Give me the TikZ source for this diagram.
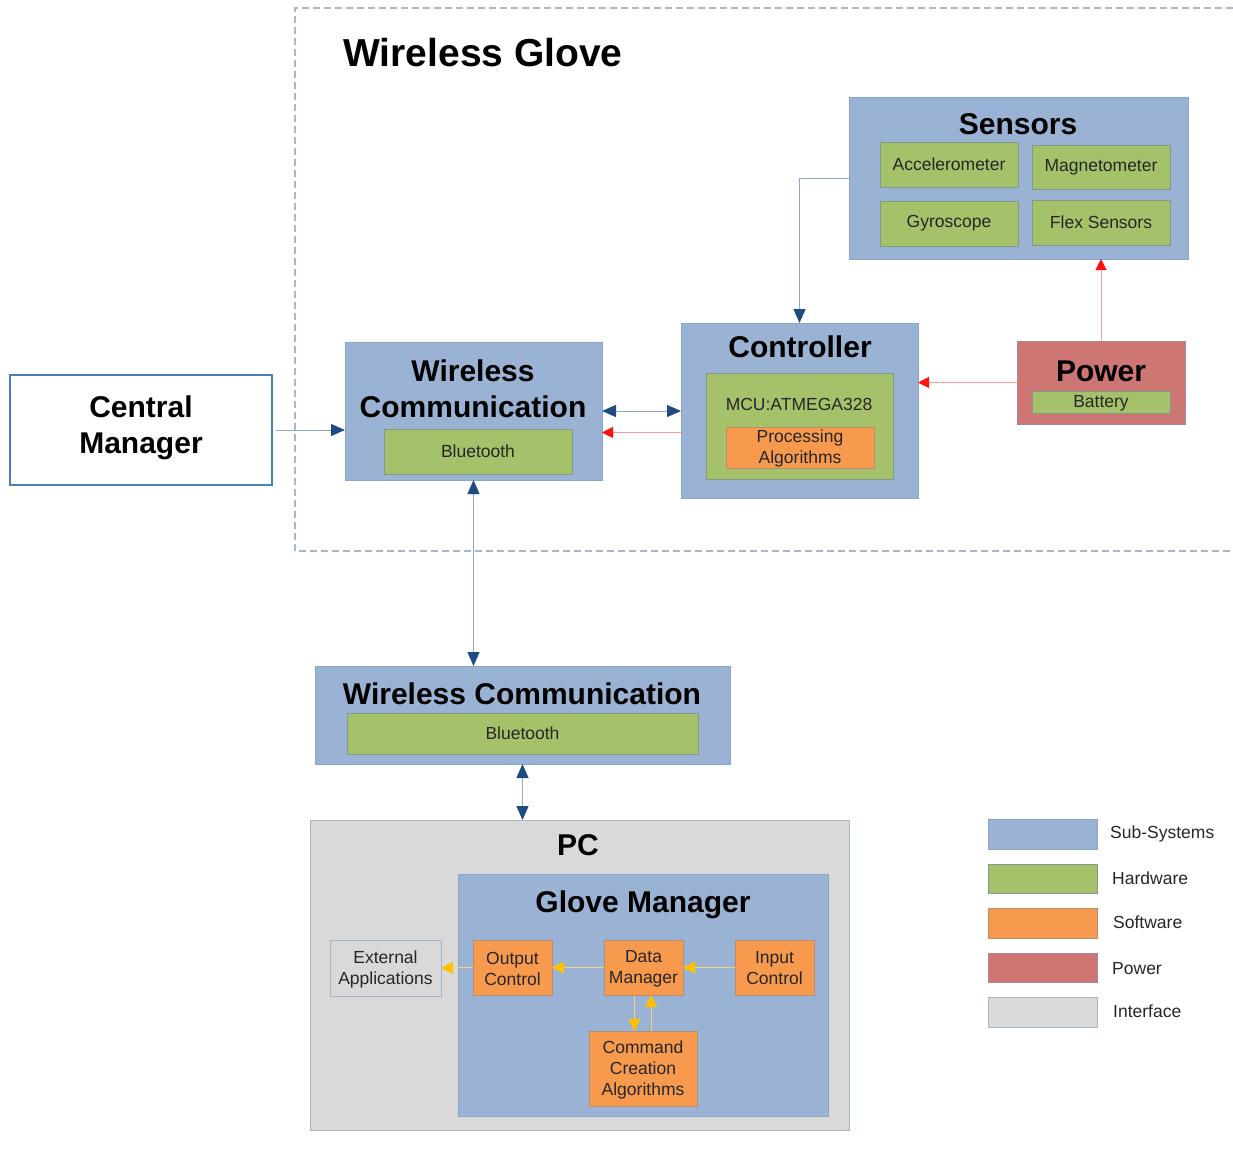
\documentclass[tikz,border=0pt]{standalone}
\usepackage{fontspec}
\setmainfont{Liberation Sans}
\usetikzlibrary{arrows.meta,calc}

\definecolor{subsys}{HTML}{9AB3D4}
\definecolor{subsysline}{HTML}{8AA5C8}
\definecolor{hw}{HTML}{A5C26B}
\definecolor{hwline}{HTML}{7F9A8A}
\definecolor{sw}{HTML}{F79A4E}
\definecolor{swline}{HTML}{B98E70}
\definecolor{pwr}{HTML}{CD7673}
\definecolor{pwrline}{HTML}{A9888F}
\definecolor{iface}{HTML}{D9D9D9}
\definecolor{ifaceline}{HTML}{A4B4CB}
\definecolor{navy}{HTML}{1F4B82}
\definecolor{linkblue}{HTML}{8CA8CC}
\definecolor{cmblue}{HTML}{4F7DBB}
\definecolor{frameblue}{HTML}{A9B6D2}
\definecolor{redhead}{HTML}{FF1010}
\definecolor{redline}{HTML}{FF9C9C}
\definecolor{yelhead}{HTML}{FFC000}
\definecolor{yelline}{HTML}{F2D27A}
\definecolor{txt}{HTML}{262626}

% place a box by its corner coordinates
\newcommand{\blockat}[6]{%
  \node[#6, minimum width={(#4-#2)*1pt}, minimum height={(#5-#3)*1pt}]
    (#1) at ({(#2+#4)/2},{(#3+#5)/2}) {};}

\tikzset{
  blk/.style={draw, inner sep=0pt, outer sep=0pt, line width=1pt},
  subsysbox/.style={blk, fill=subsys, draw=subsysline},
  hwbox/.style={blk, fill=hw, draw=hwline},
  swbox/.style={blk, fill=sw, draw=swline},
  pwrbox/.style={blk, fill=pwr, draw=pwrline},
  ifacebox/.style={blk, fill=iface, draw=ifaceline},
  title/.style={font=\fontsize{30}{36}\selectfont\bfseries, align=center, anchor=base, inner sep=0pt},
  small/.style={font=\fontsize{17.5}{21}\selectfont, text=txt, align=center, inner sep=0pt},
  lbl/.style={small, anchor=base west},
  bluelink/.style={draw=linkblue, line width=1pt},
  bluehead/.style={-{Triangle[length=14pt,width=12pt,color=navy]}},
  bluetwo/.style={{Triangle[length=14pt,width=12pt,color=navy]}-{Triangle[length=14pt,width=12pt,color=navy]}},
  redlink/.style={draw=redline, line width=1pt, -{Triangle[length=11pt,width=11pt,color=redhead]}},
  yellink/.style={draw=yelline, line width=1pt, -{Triangle[length=12pt,width=12pt,color=yelhead]}},
}

\begin{document}
\begin{tikzpicture}[x=1pt, y=-1pt]
\useasboundingbox (0,0) rectangle (1233,1154);

% wireless glove boundary
\draw[frameblue, line width=1.2pt, dash pattern=on 7pt off 4pt]
  (1233,8) -- (295,8) -- (295,551) -- (1233,551);
\node[title, font=\fontsize{39}{44}\selectfont\bfseries] (wgT) at (483,66) {Wireless Glove};

% sensors
\blockat{sens}{849}{97}{1188}{259}{subsysbox}
\node[title] (sensT) at (1018,134) {Sensors};
\blockat{acc}{880}{142}{1018}{187}{hwbox}
\node[small] at (acc) {Accelerometer};
\blockat{mag}{1032}{145}{1170}{189}{hwbox}
\node[small] at (mag) {Magnetometer};
\blockat{gyro}{880}{201}{1018}{246}{hwbox}
\node[small] at (gyro) {Gyroscope};
\blockat{flex}{1032}{200}{1170}{245}{hwbox}
\node[small] at (flex) {Flex Sensors};

% controller
\blockat{ctrl}{681}{323}{918}{498}{subsysbox}
\node[title] (ctrlT) at (800,357) {Controller};
\blockat{mcu}{706}{373}{893}{479}{hwbox}
\node[small, anchor=base] (mcuT) at (799,410) {MCU:ATMEGA328};
\blockat{proc}{726}{427}{874}{468}{swbox}
\node[small] at ([yshift=-1pt]proc) {Processing\\Algorithms};

% power
\blockat{pow}{1017}{341}{1185}{424}{pwrbox}
\node[title] (powT) at (1101,381) {Power};
\blockat{bat}{1032}{391}{1170}{413}{hwbox}
\node[small] at ([yshift=-1pt]bat) {Battery};

% wireless communication on the glove
\blockat{wc1}{345}{342}{602}{480}{subsysbox}
\node[title] (wc1T) at (473,417) {Wireless\\Communication};
\blockat{bt1}{384}{429}{572}{474}{hwbox}
\node[small] at (bt1) {Bluetooth};

% central manager
\blockat{cm}{10}{375}{272}{485}{blk, fill=white, draw=cmblue, line width=2pt}
\node[title] (cmT) at (141,453) {Central\\Manager};

% wireless communication on the PC side
\blockat{wc2}{315}{666}{730}{764}{subsysbox}
\node[title] (wc2T) at (522,704) {Wireless Communication};
\blockat{bt2}{347}{713}{698}{754}{hwbox}
\node[small] at (bt2) {Bluetooth};

% PC
\blockat{pc}{310}{820}{849}{1130}{ifacebox}
\node[title] (pcT) at (578,855) {PC};
\blockat{gm}{458}{874}{828}{1116}{subsysbox}
\node[title] (gmT) at (643,912) {Glove Manager};
\blockat{ext}{330}{940}{441}{996}{ifacebox}
\node[small] at ([yshift=-1pt]ext) {External\\Applications};
\blockat{oc}{473}{940}{552}{995}{swbox}
\node[small] at ([yshift=-1pt]oc) {Output\\Control};
\blockat{dm}{604}{940}{683}{995}{swbox}
\node[small] at ([yshift=-1pt]dm) {Data\\Manager};
\blockat{ic}{735}{940}{814}{995}{swbox}
\node[small] at ([yshift=-1pt]ic) {Input\\Control};
\blockat{cca}{589}{1031}{697}{1106}{swbox}
\node[small] at ([yshift=-1pt]cca) {Command\\Creation\\Algorithms};

% legend
\blockat{lg1}{988}{819}{1097}{849}{subsysbox}
\node[lbl] (lg1T) at (1110,838) {Sub-Systems};
\blockat{lg2}{988}{864}{1097}{893}{hwbox}
\node[lbl] (lg2T) at (1112,884) {Hardware};
\blockat{lg3}{988}{908}{1097}{938}{swbox}
\node[lbl] (lg3T) at (1113,928) {Software};
\blockat{lg4}{988}{953}{1097}{982}{pwrbox}
\node[lbl] (lg4T) at (1112,974) {Power};
\blockat{lg5}{988}{997}{1097}{1027}{ifacebox}
\node[lbl] (lg5T) at (1113,1017) {Interface};

% data links
\draw[bluelink, bluehead] (sens.west) -| (ctrl.north);
\draw[bluelink, bluetwo] (wc1.east) -- (wc1.east -| ctrl.west);
\draw[redlink] ([yshift=-22pt]ctrl.west) -- ([yshift=-22pt]ctrl.west -| wc1.east);
\draw[bluelink, bluehead] ([xshift=4pt]cm.east) -- (cm.east -| wc1.west);
\draw[bluelink, bluetwo] (wc1.south) -- (wc1.south |- wc2.north);
\draw[bluelink, bluetwo] (wc2.south) -- (wc2.south |- pc.north);

% power links
\draw[redlink] (pow.west) -- (pow.west -| ctrl.east);
\draw[redlink] (pow.north) -- (pow.north |- sens.south);

% software flow
\draw[yellink] (ic.west) -- (dm.east);
\draw[yellink] (dm.west) -- (oc.east);
\draw[yellink] (oc.west) -- (ext.east);
\draw[yellink] ([xshift=-9pt]dm.south) -- ([xshift=-9pt]dm.south |- cca.north);
\draw[yellink] ([xshift=8pt]cca.north) -- ([xshift=8pt]cca.north |- dm.south);
\end{tikzpicture}
\end{document}
